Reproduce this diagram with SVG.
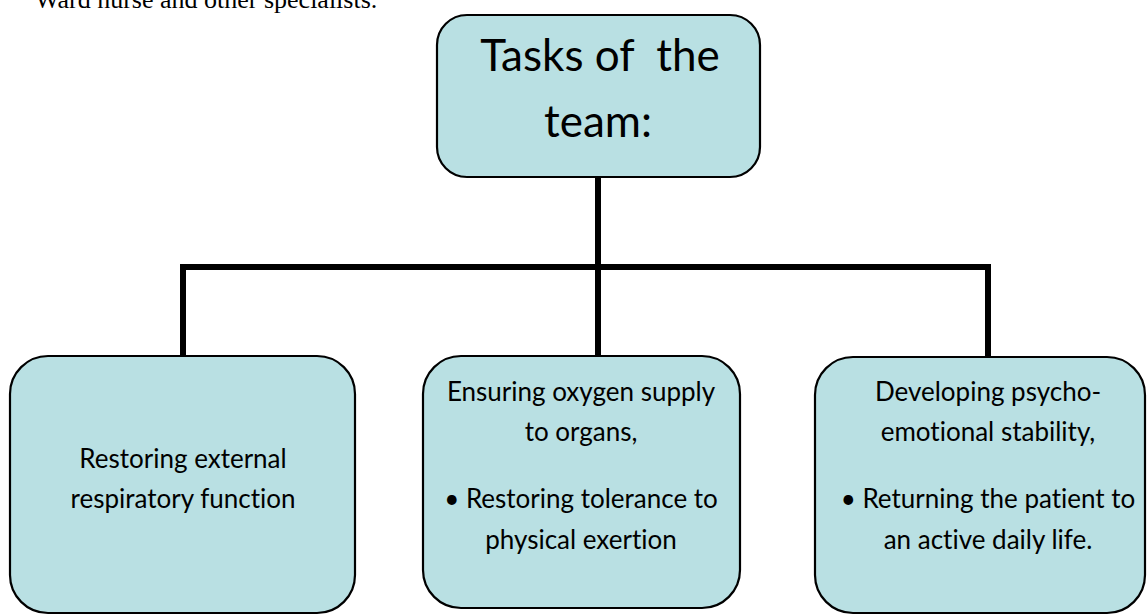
<svg xmlns="http://www.w3.org/2000/svg" width="1147" height="615" viewBox="0 0 1147 615">
<style>
.box{fill:#b9e0e3;stroke:#000;stroke-width:2.2}
.t{font-family:Lato,"Open Sans","Liberation Sans",sans-serif;fill:#000;text-anchor:middle;white-space:pre;font-variant-ligatures:none}
.big{font-size:44px}
.sm{font-size:26px}
.conn{fill:none;stroke:#000;stroke-width:6}
</style>
<rect width="1147" height="615" fill="#fff"/>
<text x="35" y="8" font-family="Liberation Serif,serif" font-size="26">Ward nurse and other specialists.</text>
<g id="connectors">
<path class="conn" d="M598 177V267M183 356V267H988V356M598 267V356"/>
</g>
<g id="top">
<rect class="box" x="437" y="15" width="323" height="162" rx="30"/>
<text class="t big" x="600" y="71" xml:space="preserve">Tasks of  the</text>
<text class="t big" x="598" y="137">team:</text>
</g>
<g id="left">
<rect class="box" x="10" y="356" width="345" height="257" rx="38"/>
<text class="t sm" x="183" y="468">Restoring external</text>
<text class="t sm" x="183" y="508">respiratory function</text>
</g>
<g id="middle">
<rect class="box" x="423" y="356" width="317" height="252" rx="38"/>
<text class="t sm" x="581" y="401">Ensuring oxygen supply</text>
<text class="t sm" x="581" y="441">to organs,</text>
<text class="t sm" x="581" y="508">• Restoring tolerance to</text>
<text class="t sm" x="581" y="549">physical exertion</text>
</g>
<g id="right">
<rect class="box" x="815" y="357" width="330" height="256" rx="38"/>
<text class="t sm" x="988" y="401">Developing psycho-</text>
<text class="t sm" x="988" y="441">emotional stability,</text>
<text class="t sm" x="988" y="508">• Returning the patient to</text>
<text class="t sm" x="988" y="549">an active daily life.</text>
</g>
</svg>
